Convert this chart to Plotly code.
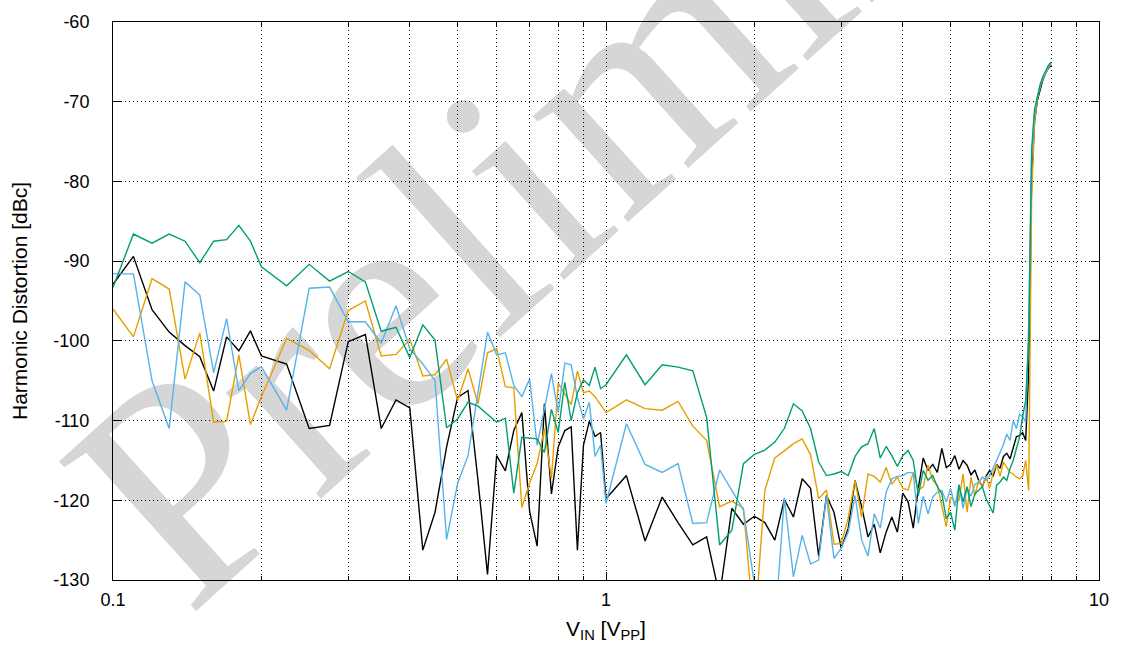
import plotly.graph_objects as go

# Input amplitude [Vpp]
vin = [0.10, 0.11, 0.12, 0.13, 0.14, 0.15, 0.16, 0.17, 0.18, 0.19,
       0.200, 0.225, 0.250, 0.275, 0.300, 0.325, 0.350, 0.375, 0.400, 0.425,
       0.450, 0.475, 0.500, 0.525, 0.550, 0.575, 0.600, 0.625, 0.650, 0.675,
       0.700, 0.725, 0.750, 0.775, 0.800, 0.825, 0.850, 0.875, 0.900, 0.925,
       0.950, 0.975,
       1.0, 1.1, 1.2, 1.3, 1.4, 1.5, 1.6, 1.7, 1.8, 1.9,
       2.0, 2.1, 2.2, 2.3, 2.4, 2.5, 2.6, 2.7, 2.8, 2.9,
       3.0, 3.1, 3.2, 3.3, 3.4, 3.5, 3.6, 3.7, 3.8, 3.9,
       4.0, 4.1, 4.2, 4.3, 4.4, 4.5, 4.6, 4.7, 4.8, 4.9,
       5.0, 5.1, 5.2, 5.3, 5.4, 5.5, 5.6, 5.7, 5.8, 5.9,
       6.0, 6.1, 6.2, 6.3, 6.4, 6.5, 6.6, 6.7, 6.8, 6.9,
       7.0, 7.1, 7.2, 7.3, 7.4, 7.5, 7.6, 7.7, 7.8, 7.9, 8.0]

hd_black = [-92.9, -89.4, -96.1, -98.9, -100.6, -102.0, -106.3, -99.5, -101.25, -98.75,
            -101.9, -102.9, -111.0, -110.6, -100.1, -99.2, -111.0, -107.4, -108.4, -126.25,
            -121.5, -113.3, -107.1, -106.25, -117.5, -129.3, -114.4, -116.3, -111.25, -109.0,
            -121.4, -125.75, -107.9, -119.2, -113.3, -111.25, -110.8, -126.25, -113.1, -110.1,
            -112.0, -111.5,
            -119.8, -116.9, -125.1, -119.6, -122.8, -125.6, -124.6, -132.0, -121.0, -123.0,
            -122.0, -122.8, -125.0, -119.9, -122.1, -117.3, -118.5, -127.0, -119.4, -121.5,
            -126.0, -123.5, -117.5, -120.8, -124.6, -123.0, -126.6, -124.0, -122.1, -124.0,
            -119.1, -120.2, -123.5, -118.5, -114.7, -116.25, -115.5, -116.5, -113.5, -115.9,
            -115.5, -114.4, -116.1, -115.0, -115.6, -116.8, -116.2, -117.5, -118.3, -117.0,
            -116.25, -117.0, -115.5, -116.0, -114.5, -114.1, -114.8, -113.5, -112.0, -111.9,
            -111.5, -112.5, -104.0, -80.0, -72.5, -69.8, -68.3, -67.2, -66.4, -65.8, -65.4]

hd_orange = [-96.0, -99.5, -92.2, -93.5, -104.8, -99.0, -110.2, -110.1, -101.75, -110.5,
             -107.0, -99.7, -101.2, -103.5, -96.2, -95.0, -101.9, -101.7, -99.8, -104.4,
             -104.25, -102.3, -107.5, -103.5, -107.9, -101.5, -101.0, -105.75, -105.9, -120.9,
             -117.8, -115.4, -111.0, -117.3, -105.3, -106.7, -108.0, -103.8, -106.5, -106.3,
             -107.0, -108.0,
             -109.0, -107.4, -108.5, -108.7, -107.6, -110.7, -112.5, -120.8, -120.1, -121.0,
             -136.5, -118.75, -114.7, -113.8, -112.9, -112.3, -114.3, -119.8, -118.7, -125.5,
             -125.4, -122.2, -117.5, -122.1, -116.7, -117.0, -117.7, -115.9, -118.0, -117.1,
             -118.5, -118.7, -116.5, -118.7, -118.3, -115.6, -117.5, -118.1, -120.6, -123.3,
             -119.6, -120.2, -120.0, -116.7, -121.5, -117.1, -119.4, -117.5, -118.3, -117.0,
             -118.5, -116.5, -115.5, -117.0, -115.2, -115.8, -116.5, -116.7, -117.1, -117.3,
             -117.0, -115.0, -118.75, -82.0, -72.5, -69.6, -68.1, -67.1, -66.3, -65.7, -65.2]

hd_blue = [-91.6, -91.6, -105.0, -111.0, -92.6, -94.25, -104.0, -97.2, -106.25, -104.1,
           -103.25, -108.7, -93.4, -93.25, -97.6, -97.6, -100.3, -95.6, -101.0, -102.9,
           -105.0, -124.9, -117.9, -114.4, -106.5, -98.9, -101.75, -101.5, -105.6, -107.0,
           -104.8, -113.1, -108.5, -104.1, -109.0, -102.8, -103.0, -107.1, -109.8, -107.7,
           -114.5, -113.1,
           -120.4, -110.4, -115.5, -116.5, -115.4, -122.9, -122.8, -116.2, -118.75, -121.2,
           -130.5, -135.0, -136.0, -119.7, -129.6, -124.4, -128.0, -127.5, -119.5, -127.3,
           -126.0, -124.0, -119.4, -125.0, -127.0, -121.7, -123.5, -119.0, -117.3, -117.0,
           -116.9, -116.5, -116.6, -122.9, -119.5, -121.7, -119.6, -119.0, -118.75, -120.2,
           -118.5, -120.8, -118.0, -121.0, -118.5, -119.5, -118.0, -117.8, -117.1, -117.5,
           -116.9, -116.0, -115.0, -114.0, -113.0, -111.7, -112.5, -110.0, -111.0, -109.2,
           -109.5, -110.2, -98.0, -77.0, -71.5, -69.4, -68.0, -67.0, -66.2, -65.6, -65.1]

hd_green = [-93.3, -86.6, -87.75, -86.6, -87.5, -90.2, -87.5, -87.3, -85.5, -87.5,
            -90.7, -93.1, -90.4, -92.5, -91.3, -92.6, -98.8, -98.3, -102.1, -98.0,
            -99.9, -110.9, -109.8, -107.7, -108.2, -109.2, -110.2, -109.7, -119.1, -112.1,
            -112.2, -112.3, -114.0, -108.6, -111.5, -105.2, -110.0, -106.5, -104.9, -105.6,
            -103.3, -106.0,
            -105.5, -101.75, -105.5, -103.0, -103.3, -103.75, -109.6, -125.6, -123.75, -115.4,
            -114.25, -113.7, -112.7, -111.0, -107.9, -108.8, -111.0, -115.2, -116.9, -116.7,
            -116.4, -116.9, -114.5, -113.3, -112.9, -111.0, -114.7, -113.25, -114.4, -115.75,
            -114.4, -113.75, -115.0, -119.4, -116.25, -117.5, -116.9, -118.3, -119.2, -122.3,
            -121.5, -123.75, -118.1, -120.2, -118.3, -120.8, -119.2, -118.75, -118.3, -119.8,
            -120.8, -121.6, -118.1, -117.7, -117.1, -117.5, -116.0, -115.0, -113.5, -112.1,
            -109.5, -107.5, -100.0, -76.0, -71.0, -69.2, -67.8, -66.8, -66.0, -65.4, -65.0]

x_major = [0.1, 1, 10]
x_major_text = ["0.1", "1", "10"]
x_minor = [0.2, 0.3, 0.4, 0.5, 0.6, 0.7, 0.8, 0.9, 2, 3, 4, 5, 6, 7, 8, 9]
y_ticks = [-130, -120, -110, -100, -90, -80, -70, -60]
y_tick_text = ["-130", "-120", "-110", "-100", "-90", "-80", "-70", "-60"]

series = [
    ("black", hd_black, "#000000"),
    ("orange", hd_orange, "#E69F00"),
    ("blue", hd_blue, "#56B4E9"),
    ("green", hd_green, "#009E73"),
]

fig = go.Figure()
for name, ys, col in series:
    fig.add_trace(go.Scatter(x=vin, y=ys, mode="lines", name=name,
                             line=dict(color=col, width=1.4), showlegend=False))

font_main = "Liberation Sans, Arial, Helvetica, sans-serif"
grid_dash = "1px,3px"

fig.update_layout(
    width=1121, height=652,
    margin=dict(l=113, r=22, t=20, b=72),
    paper_bgcolor="white", plot_bgcolor="white",
    font=dict(family=font_main, size=18, color="black"),
    shapes=[dict(
        type="rect", xref="paper", yref="paper",
        x0=0.524, x1=0.544, y0=0.983, y1=1.003,
        line=dict(width=0), fillcolor="rgba(0,0,0,0)", layer="below",
        label=dict(text="Preliminary", textangle=-42, textposition="middle center",
                   font=dict(family="Liberation Serif, Times New Roman, serif",
                             size=310, color="#d6d6d6")),
    )],
)

fig.update_xaxes(
    type="log", range=[-1, 1],
    tickvals=x_major, ticktext=x_major_text,
    ticks="inside", ticklen=8, tickcolor="black",
    showline=True, linecolor="black", linewidth=1, mirror="ticks",
    showgrid=True, gridcolor="black", griddash=grid_dash, gridwidth=1,
    minor=dict(tickvals=x_minor, ticks="inside", ticklen=4, tickcolor="black",
               showgrid=True, gridcolor="black", griddash=grid_dash, gridwidth=1),
    zeroline=False, ticklabelstandoff=3,
    title=dict(text="V<sub>IN</sub> [V<sub>PP</sub>]", font=dict(size=21), standoff=12),
)
fig.update_yaxes(
    range=[-130, -60], tickvals=y_ticks, ticktext=y_tick_text,
    ticks="inside", ticklen=8, tickcolor="black",
    showline=True, linecolor="black", linewidth=1, mirror="ticks",
    showgrid=True, gridcolor="black", griddash=grid_dash, gridwidth=1,
    zeroline=False, ticklabelstandoff=19,
    title=dict(text="Harmonic Distortion [dBc]", font=dict(size=21), standoff=20),
)

fig.write_html("out.html")
